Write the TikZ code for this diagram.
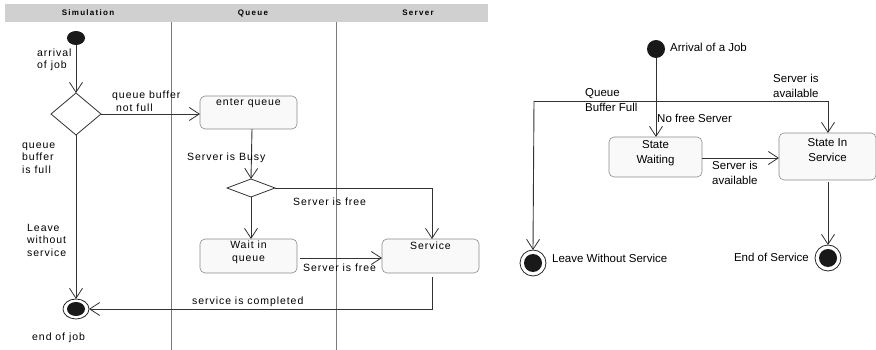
\documentclass[tikz,border=0pt]{standalone}
\usepackage{fontspec}
\setmainfont{Liberation Sans}
\newfontfamily\lfont[LetterSpace=9]{Liberation Sans}
\newfontfamily\hfont[LetterSpace=16]{Liberation Sans}
\usetikzlibrary{arrows.meta,shapes.geometric}
\definecolor{boxfill}{HTML}{F9F9F9}
\definecolor{boxline}{HTML}{8A8A8A}
\definecolor{lane}{HTML}{7A7A7A}
\definecolor{hdr}{HTML}{D0D0D0}
\tikzset{
  flow/.style={draw=black!80, line width=0.9pt, -{Straight Barb[length=10pt,width=13pt,line width=0.8pt]}},
  plain/.style={draw=black!80, line width=0.9pt},
  actbox/.style={draw=boxline, fill=boxfill, rounded corners=5pt, line width=0.6pt},
  ltxt/.style={font=\lfont\fontsize{10.5}{12.5}\selectfont, inner sep=0pt, align=left},
  rtxt/.style={font=\fontsize{11.5}{15}\selectfont, inner sep=0pt, align=left},
  htxt/.style={font=\hfont\bfseries\fontsize{8}{9}\selectfont, inner sep=0pt},
}
\begin{document}
\begin{tikzpicture}[x=1pt,y=-1pt]
\useasboundingbox (0,0) rectangle (876,350);
% ---------- left: activity diagram ----------
\fill[hdr] (5,4) rectangle (488,22);
\node[htxt] (h1) at (88,13) {Simulation};
\node[htxt] (h2) at (253,13) {Queue};
\node[htxt] (h3) at (418,13) {Server};
\draw[lane, line width=0.8pt] (171,22) -- (171,350);
\draw[lane, line width=0.8pt] (336,22) -- (336,350);

\fill[black!90] (76,38) ellipse [x radius=9, y radius=7];
\coordinate (init) at (76,45);
\path[draw=black!80, fill=white, line width=0.8pt] (51,114) -- (76,93) -- (101,114) -- (76,135) -- cycle;
\coordinate (d1t) at (76,93);
\coordinate (d1r) at (101,114);
\coordinate (d1b) at (76,135);

\draw[actbox] (200,96) rectangle (297,129);
\node[ltxt] (eq) at (248.5,103.5) {enter queue};
\coordinate (eqw) at (200,114);
\coordinate (eqs) at (252,129);

\path[draw=black!80, fill=white, line width=0.8pt] (227,188) -- (251,179) -- (275,188) -- (251,197) -- cycle;
\coordinate (d2t) at (251,179);
\coordinate (d2r) at (275,188);
\coordinate (d2b) at (251,197);

\draw[actbox] (200,239) rectangle (297,273);
\node[ltxt, align=center] (wq) at (248.5,252.5) {Wait in\\queue};
\coordinate (wqe) at (300,258);

\draw[actbox] (382,239) rectangle (479,273);
\node[ltxt] (sv) at (430.5,246) {Service};
\coordinate (svw) at (382,258);
\coordinate (svn) at (432,239);
\coordinate (svs) at (432,277);

\draw[line width=0.8pt, draw=black!85] (76,309) ellipse [x radius=13, y radius=10];
\fill[black!90] (76,309) ellipse [x radius=9, y radius=7];
\coordinate (endn) at (76,299);
\coordinate (ende) at (89,309);

\draw[flow] (init) -- (d1t);
\draw[flow] (d1r) -- (eqw);
\draw[flow] (eqs) -- (d2t);
\draw[flow] (d2b) -- (251,239);
\draw[flow] (d2r) -- (432,188) -- (svn);
\draw[flow] (wqe) -- (svw);
\draw[flow] (svs) -- (432,309) -- (ende);
\draw[flow] (d1b) -- (endn);

\node[ltxt, anchor=west] (l1) at (37,60) {arrival\\of job};
\node[ltxt, anchor=west] (l2) at (112,101) {queue buffer\\\ not full};
\node[ltxt, anchor=west] (l3) at (22,158) {queue\\buffer\\is full};
\node[ltxt, anchor=west] (l4) at (27,240) {Leave\\without\\service};
\node[ltxt, anchor=west] (l5) at (187,158) {Server is Busy};
\node[ltxt, anchor=west] (l6) at (293,202) {Server is free};
\node[ltxt, anchor=west] (l7) at (303,268) {Server is free};
\node[ltxt, anchor=west] (l8) at (192,302) {service is completed};
\node[ltxt, anchor=west] (l9) at (32,338) {end of job};

% ---------- right: state diagram ----------
\fill[black!90] (656,49) circle (9);
\coordinate (rinit) at (656,58);
\node[rtxt, anchor=west] (ra) at (670,47) {Arrival of a Job};

\draw[actbox] (609,137) rectangle (702,177);
\node[rtxt, align=center] (sw) at (655.5,153) {State\\Waiting};
\draw[actbox] (779,133) rectangle (876,180);
\node[rtxt, align=center] (ss) at (827.5,150) {State In\\Service};

\draw[line width=0.8pt, draw=black!85] (533,263) circle (13);
\fill[black!90] (533,263) circle (9);
\draw[line width=0.8pt, draw=black!85] (828,258) circle (13);
\fill[black!90] (828,258) circle (9);

\draw[plain] (rinit) -- (656,101);
\draw[flow] (656,101) -- (656,137);
\draw[flow] (534,101) -- (828,101) -- (828,133);
\draw[flow] (534,101) -- (533,250);
\draw[flow] (702,158) -- (779,158);
\draw[flow] (828,182) -- (828,245);

\node[rtxt, anchor=west] (q1) at (585,100.5) {Queue\\Buffer Full};
\node[rtxt, anchor=west] (q2) at (773,85.5) {Server is\\available};
\node[rtxt, anchor=west] (q3) at (657,118) {No free Server};
\node[rtxt, anchor=west] (q4) at (712,172.5) {Server is\\available};
\node[rtxt, anchor=west] (q5) at (552,258) {Leave Without Service};
\node[rtxt, anchor=east] (q6) at (809,257) {End of Service};
\end{tikzpicture}
\end{document}
